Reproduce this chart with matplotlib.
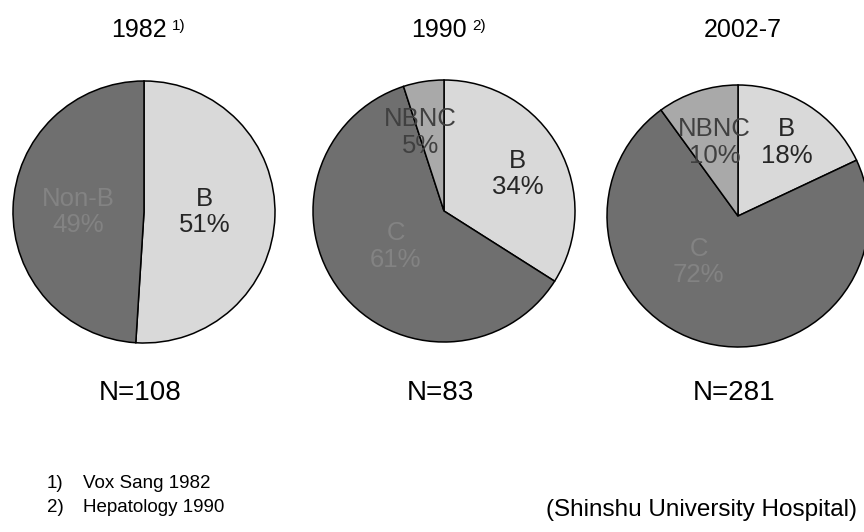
import matplotlib
matplotlib.use('Agg')
import matplotlib.pyplot as plt

plt.rcParams['font.family'] = ['Liberation Sans', 'DejaVu Sans']

# survey periods and reference marks
periods = ['1982', '1990', '2002-7']
refs = ['1)', '2)', '']
counts = [108, 83, 281]

# share of cases (%) per period, clockwise from 12 o'clock
labels_1982 = ['B', 'Non-B']
values_1982 = [51, 49]
labels_1990 = ['B', 'C', 'NBNC']
values_1990 = [34, 61, 5]
labels_2002 = ['B', 'C', 'NBNC']
values_2002 = [18, 72, 10]

footnotes = ['Vox Sang 1982', 'Hepatology 1990']
source = '(Shinshu University Hospital)'

colors = {'B': '#d9d9d9', 'Non-B': '#6f6f6f', 'C': '#6f6f6f', 'NBNC': '#a9a9a9'}
text_colors = {'B': '#262626', 'Non-B': '#838383', 'C': '#838383', 'NBNC': '#404040'}

W, H = 864, 532
fig = plt.figure(figsize=(W / 100, H / 100), dpi=100)
ax = fig.add_axes([0, 0, 1, 1])

centers = [(144, H - 212), (444, H - 211), (738, H - 216)]
radius = 131

# label offsets in units of radius (dx, dy), per slice
label_offsets = [
    [(0.46, 0.0), (-0.50, 0.0)],
    [(0.56, 0.28), (-0.37, -0.27), (-0.18, 0.60)],
    [(0.37, 0.56), (-0.30, -0.35), (-0.18, 0.56)],
]

all_labels = [labels_1982, labels_1990, labels_2002]
all_values = [values_1982, values_1990, values_2002]

for i in range(3):
    cx, cy = centers[i]
    labs = all_labels[i]
    vals = all_values[i]
    ax.pie(vals, center=(cx, cy), radius=radius, startangle=90,
           counterclock=False, colors=[colors[l] for l in labs],
           wedgeprops=dict(edgecolor='black', linewidth=1.1))
    for lab, v, (dx, dy) in zip(labs, vals, label_offsets[i]):
        ax.text(cx + dx * radius, cy + dy * radius, f'{lab}\n{v}%',
                ha='center', va='center', fontsize=18.5,
                color=text_colors[lab], linespacing=1.12)

    # period title with superscript reference
    if refs[i]:
        ax.text(cx + 23, H - 30, periods[i], ha='right', va='center',
                fontsize=18)
        ax.text(cx + 28, H - 26, refs[i], ha='left', va='center',
                fontsize=11)
    else:
        ax.text(cx + 5, H - 30, periods[i], ha='center', va='center',
                fontsize=18)

    ax.text(cx - 4, H - 393, f'N={counts[i]}', ha='center', va='center',
            fontsize=20)

for j, note in enumerate(footnotes):
    y = H - 484 - j * 24
    ax.text(47, y, f'{j + 1})', ha='left', va='center', fontsize=13.5)
    ax.text(83, y, note, ha='left', va='center', fontsize=13.5)

ax.text(857, H - 510, source, ha='right', va='center', fontsize=17.5)

# pie() resets the limits, so fix the pixel frame afterwards
ax.set_xlim(0, W)
ax.set_ylim(0, H)
ax.set_aspect('equal')
ax.axis('off')

fig.savefig('out.png', dpi=100)
